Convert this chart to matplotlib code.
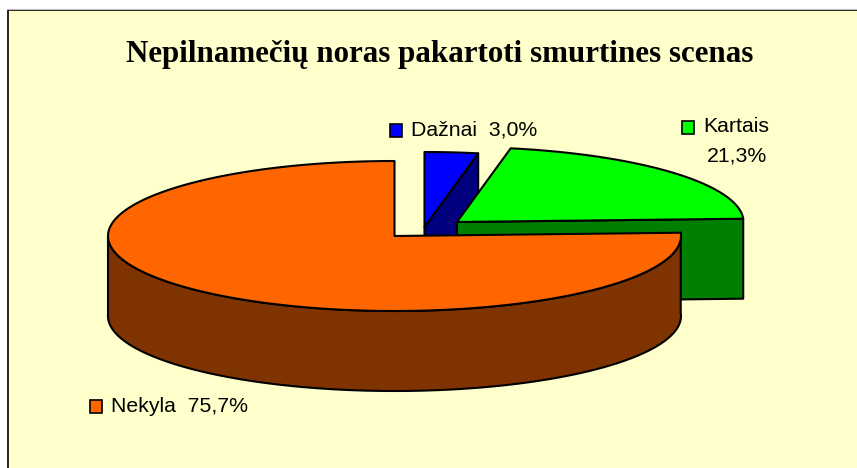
import numpy as np
import matplotlib
matplotlib.use('Agg')
import matplotlib.pyplot as plt
from matplotlib.patches import Polygon, Rectangle

labels = ['Dažnai', 'Kartais', 'Nekyla']
values = [3.0, 21.3, 75.7]
value_text = ['3,0%', '21,3%', '75,7%']
top_colors = ['#0000FF', '#00FF00', '#FF6600']
side_colors = ['#00007F', '#007F00', '#7F3300']
title = 'Nepilnamečių noras pakartoti smurtines scenas'

W, H = 857, 468
rx, ry, depth = 286.5, 75, 80
centers = [(424.5, 227), (457, 222), (394.5, 236)]

fig = plt.figure(figsize=(W / 100, H / 100), dpi=100, facecolor='white')
ax = fig.add_axes([0, 0, 1, 1])
ax.set_xlim(0, W)
ax.set_ylim(H, 0)
ax.axis('off')

# frame runs off the right and bottom of the picture
ax.plot([7, 900], [9, 9], color='#BBBBBB', lw=0.8)
ax.add_patch(Rectangle((8, 10), 900, 500, fc='#FFFFCC', ec='black', lw=1.2))


def rim(c, a):
    # angle clockwise from 12 o'clock, degrees
    r = np.radians(a)
    return np.column_stack([c[0] + rx * np.sin(r), c[1] - ry * np.cos(r)])


start = 0
for i, v in enumerate(values):
    end = start + v * 3.6
    c = centers[i]
    a = np.linspace(start, end, 200)
    arc = rim(c, a)
    # side walls
    if i < 2:
        last = arc[-1]
        wall = [c, last, last + [0, depth], [c[0], c[1] + depth]]
    else:
        vis_arc = rim(c, a[a <= 270])
        wall = np.vstack([vis_arc, (vis_arc + [0, depth])[::-1]])
    ax.add_patch(Polygon(wall, fc=side_colors[i], ec='black', lw=1.5, joinstyle='round'))
    top = np.vstack([[c], arc])
    ax.add_patch(Polygon(top, fc=top_colors[i], ec='black', lw=1.5, joinstyle='round'))
    start = end

ax.text(440, 62, title, family='Liberation Serif', weight='bold', fontsize=22.3,
        ha='center', va='baseline', color='black')

font = 'Liberation Sans'
fs = 15.3
ax.add_patch(Rectangle((390.5, 123.5), 12, 13, fc=top_colors[0], ec='black', lw=1.2))
ax.text(411, 136, labels[0] + '  ' + value_text[0], family=font, fontsize=fs, ha='left', va='baseline')
ax.add_patch(Rectangle((682.5, 120.5), 12, 13, fc=top_colors[1], ec='black', lw=1.2))
ax.text(703, 132, labels[1], family=font, fontsize=fs, ha='left', va='baseline')
ax.text(767, 162, value_text[1], family=font, fontsize=fs, ha='right', va='baseline')
ax.add_patch(Rectangle((90.5, 399.5), 12, 13, fc=top_colors[2], ec='black', lw=1.2))
ax.text(111, 412, labels[2] + '  ' + value_text[2], family=font, fontsize=fs, ha='left', va='baseline')

fig.savefig('out.png', dpi=100, facecolor='white')
